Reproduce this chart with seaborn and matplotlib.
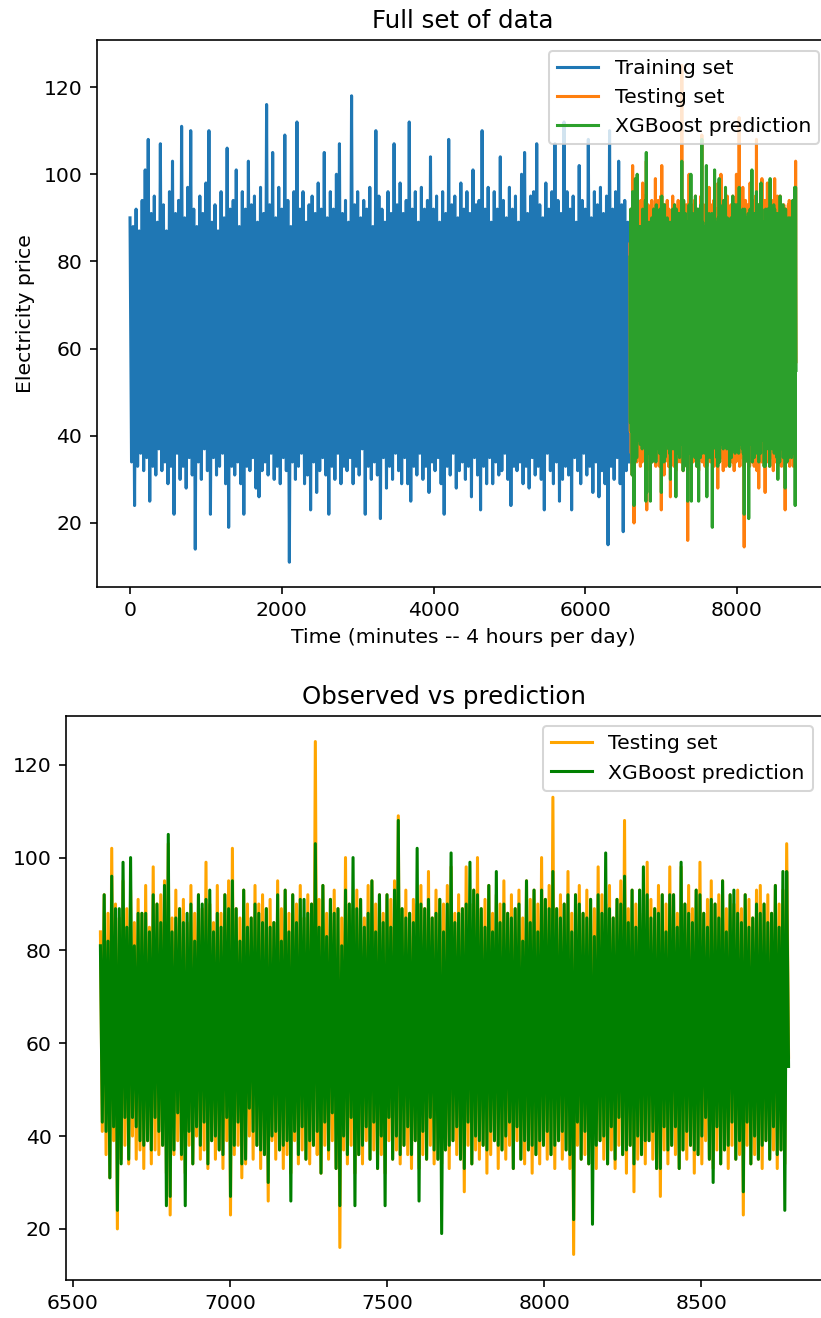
import numpy as np
import matplotlib
matplotlib.use("Agg")
import matplotlib.pyplot as plt
import seaborn as sns

# Electricity price series (one value every TRAIN_STEP / TEST_STEP minutes)
TRAIN_STEP = 20
TEST_START = 6588
TEST_STEP = 6

train_price = [
    90, 34, 88, 24, 92, 33, 87, 36, 94, 32,
    101, 35, 108, 25, 91, 33, 95, 31, 89, 37,
    107, 32, 93, 34, 87, 29, 96, 33, 103, 22,
    91, 36, 94, 30, 111, 33, 90, 28, 97, 35,
    110, 31, 92, 14, 88, 34, 95, 30, 91, 37,
    98, 32, 110, 22, 89, 35, 93, 31, 87, 33,
    96, 36, 90, 29, 106, 19, 92, 33, 94, 31,
    101, 34, 88, 29, 96, 22, 92, 33, 103, 32,
    93, 35, 95, 28, 89, 26, 97, 32, 91, 34,
    116, 31, 93, 36, 105, 30, 90, 33, 97, 29,
    92, 35, 109, 32, 94, 11, 88, 34, 96, 30,
    112, 33, 92, 36, 96, 29, 89, 31, 93, 23,
    95, 34, 91, 27, 98, 32, 92, 35, 105, 31,
    90, 22, 96, 33, 92, 30, 100, 36, 107, 29,
    91, 33, 94, 32, 89, 35, 118, 29, 93, 33,
    96, 31, 90, 37, 94, 22, 92, 33, 97, 30,
    88, 34, 110, 31, 95, 21, 92, 35, 89, 28,
    96, 33, 91, 30, 107, 36, 93, 32, 98, 29,
    91, 35, 94, 29, 112, 25, 92, 33, 96, 31,
    89, 36, 97, 30, 92, 33, 94, 27, 104, 34,
    92, 32, 95, 35, 89, 29, 96, 22, 91, 33,
    108, 31, 93, 36, 95, 28, 90, 32, 98, 34,
    92, 30, 96, 33, 91, 26, 101, 35, 93, 31,
    94, 23, 110, 33, 92, 29, 97, 35, 89, 29,
    96, 34, 92, 31, 104, 32, 94, 36, 90, 30,
    97, 24, 92, 33, 95, 32, 89, 34, 100, 29,
    105, 33, 91, 28, 95, 35, 96, 31, 107, 33,
    93, 30, 90, 23, 98, 36, 92, 32, 96, 29,
    107, 34, 94, 25, 91, 30, 112, 33, 96, 31,
    92, 23, 95, 35, 89, 32, 102, 29, 94, 36,
    92, 31, 108, 33, 90, 27, 96, 34, 93, 26,
    97, 32, 91, 29, 95, 15, 110, 33, 92, 30,
    96, 35, 103, 29, 93, 18, 94, 32, 89, 34,
]

test_price = [
    84, 41, 92, 36, 88, 31, 102, 39, 90, 20,
    87, 35, 95, 38, 89, 34, 93, 40, 86, 35,
    91, 37, 88, 33, 94, 39, 85, 34, 98, 37,
    90, 36, 92, 38, 95, 32, 103, 23, 87, 36,
    93, 39, 89, 35, 91, 32, 86, 38, 94, 34,
    88, 40, 92, 35, 89, 37, 99, 33, 90, 39,
    86, 35, 94, 37, 88, 33, 92, 39, 95, 23,
    102, 36, 89, 38, 87, 31, 93, 34, 90, 40,
    87, 35, 94, 38, 90, 33, 92, 36, 89, 26,
    91, 39, 86, 35, 95, 37, 89, 33, 93, 36,
    88, 32, 92, 39, 90, 34, 94, 37, 87, 35,
    92, 34, 90, 38, 125, 36, 91, 32, 94, 38,
    88, 35, 91, 39, 93, 33, 89, 16, 87, 37,
    100, 34, 90, 38, 89, 32, 93, 36, 91, 34,
    87, 39, 94, 35, 95, 37, 90, 33, 92, 36,
    88, 32, 92, 39, 91, 35, 95, 37, 109, 34,
    89, 38, 93, 36, 88, 33, 91, 39, 90, 33,
    94, 36, 89, 35, 97, 38, 87, 34, 93, 35,
    91, 34, 90, 37, 94, 33, 98, 39, 88, 36,
    92, 35, 89, 28, 98, 38, 90, 34, 93, 37,
    100, 35, 89, 38, 91, 32, 94, 36, 88, 39,
    92, 33, 90, 37, 95, 35, 88, 38, 92, 33,
    89, 39, 93, 35, 87, 34, 95, 37, 91, 32,
    93, 36, 90, 34, 100, 38, 91, 35, 94, 36,
    113, 33, 89, 39, 92, 35, 90, 37, 97, 33,
    88, 14.5, 92, 38, 94, 35, 88, 36, 93, 34,
    91, 37, 89, 33, 98, 39, 92, 35, 90, 34,
    94, 37, 87, 33, 91, 38, 95, 36, 108, 32,
    89, 38, 93, 28, 90, 35, 93, 36, 88, 34,
    99, 39, 91, 35, 89, 33, 94, 27, 92, 37,
    90, 34, 98, 38, 92, 36, 88, 33, 98, 37,
    90, 35, 94, 38, 89, 32, 93, 36, 99, 34,
    88, 39, 91, 35, 95, 33, 90, 37, 92, 34,
    95, 37, 89, 33, 92, 38, 90, 35, 93, 36,
    89, 23, 92, 38, 91, 34, 87, 36, 93, 35,
    94, 33, 90, 39, 92, 35, 88, 37, 94, 33,
    90, 37, 93, 34, 103, 57,
]

xgb_prediction = [
    81, 43, 92, 41, 82, 31, 96, 42, 89, 24,
    89, 34, 99, 44, 85, 35, 100, 44, 81, 42,
    88, 39, 88, 38, 88, 39, 84, 37, 92, 44,
    90, 41, 86, 38, 94, 25, 105, 27, 84, 37,
    87, 45, 89, 36, 86, 25, 88, 41, 90, 34,
    82, 42, 92, 38, 90, 43, 91, 34, 93, 39,
    84, 40, 88, 37, 85, 36, 92, 44, 89, 27,
    95, 38, 89, 43, 82, 34, 93, 35, 85, 46,
    87, 41, 90, 38, 88, 37, 86, 36, 89, 30,
    85, 40, 86, 41, 92, 37, 82, 38, 93, 39,
    84, 26, 92, 41, 86, 36, 91, 42, 91, 35,
    88, 39, 90, 38, 103, 41, 85, 32, 94, 43,
    83, 37, 91, 45, 88, 33, 89, 25, 81, 40,
    93, 36, 90, 44, 100, 25, 89, 36, 91, 38,
    85, 42, 88, 35, 95, 43, 84, 33, 92, 40,
    86, 25, 92, 44, 85, 35, 93, 40, 108, 36,
    89, 38, 87, 42, 88, 36, 86, 39, 102, 26,
    90, 41, 89, 35, 91, 44, 87, 37, 88, 35,
    91, 19, 84, 37, 90, 38, 101, 39, 86, 42,
    88, 35, 89, 33, 90, 43, 99, 34, 93, 40,
    92, 39, 89, 38, 85, 37, 94, 41, 84, 39,
    97, 38, 86, 37, 90, 40, 88, 43, 87, 33,
    89, 42, 90, 35, 82, 39, 95, 37, 86, 38,
    93, 36, 84, 39, 93, 38, 91, 41, 89, 36,
    97, 38, 89, 39, 87, 41, 90, 37, 92, 36,
    84, 22, 92, 43, 90, 35, 88, 41, 87, 34,
    91, 21, 83, 38, 92, 39, 88, 40, 101, 34,
    89, 42, 87, 35, 91, 44, 90, 36, 96, 37,
    86, 38, 93, 34, 85, 40, 93, 36, 98, 39,
    92, 39, 87, 41, 89, 33, 88, 33, 92, 42,
    84, 37, 92, 38, 92, 42, 85, 33, 99, 37,
    90, 41, 88, 38, 86, 37, 93, 36, 92, 40,
    88, 44, 85, 35, 91, 30, 90, 42, 87, 34,
    95, 37, 84, 38, 92, 43, 93, 35, 88, 39,
    86, 28, 92, 43, 85, 34, 87, 40, 90, 35,
    88, 38, 90, 39, 86, 35, 88, 42, 94, 36,
    85, 37, 97, 24, 97, 55,
]

train_time = np.arange(len(train_price)) * TRAIN_STEP
test_time = TEST_START + np.arange(len(test_price)) * TEST_STEP

DPI = 147
fig = plt.figure(figsize=(821 / DPI, 1318 / DPI), dpi=DPI)

# Upper panel: the whole series, split into training / testing / prediction
ax1 = fig.add_axes([0.1178, 0.5546, 0.8924, 0.4147])
sns.lineplot(x=train_time, y=train_price, ax=ax1, color="#1f77b4",
             label="Training set", linewidth=1.5)
sns.lineplot(x=test_time, y=test_price, ax=ax1, color="#ff7f0e",
             label="Testing set", linewidth=1.5)
sns.lineplot(x=test_time, y=xgb_prediction, ax=ax1, color="#2ca02c",
             label="XGBoost prediction", linewidth=1.5)
ax1.set_title("Full set of data")
ax1.set_xlabel("Time (minutes -- 4 hours per day)")
ax1.set_ylabel("Electricity price")
ax1.legend(loc="upper right")

# Lower panel: observed test values against the model output
ax2 = fig.add_axes([0.0804, 0.0288, 0.9220, 0.4280])
sns.lineplot(x=test_time, y=test_price, ax=ax2, color="orange",
             label="Testing set", linewidth=1.5)
sns.lineplot(x=test_time, y=xgb_prediction, ax=ax2, color="green",
             label="XGBoost prediction", linewidth=1.5)
ax2.set_title("Observed vs prediction")
ax2.legend(loc="upper right")

fig.savefig("out.png", dpi=DPI)
